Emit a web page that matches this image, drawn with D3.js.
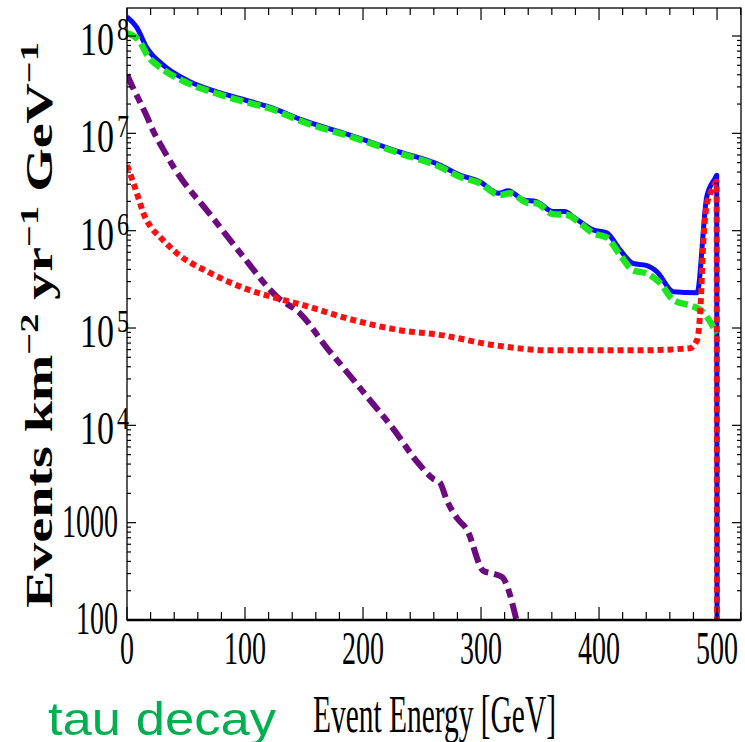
<!DOCTYPE html>
<html><head><meta charset="utf-8">
<script src="https://cdn.jsdelivr.net/npm/d3@7"></script>
<style>html,body{margin:0;padding:0;background:#fff;}svg{display:block;}</style>
</head><body>
<svg id="c" width="745" height="742"></svg>
<script>
// ---------- data ----------
const totalEnergy = [0,8,17,31,51,79,100,121,150,189,230,265,282,299,315,323,336,347,361,371,378,395,406.5,418,429,440,449,463,483,491.3,498.3,499.7,500];
const totalEvents = [1.57e8,1.24e8,7.5e7,5.0e7,3.5e7,2.6e7,2.2e7,1.86e7,1.35e7,9.6e6,6.5e6,4.73e6,3.73e6,3.19e6,2.42e6,2.57e6,2.07e6,1.99e6,1.57e6,1.57e6,1.39e6,1.02e6,9.5e5,6.3e5,4.6e5,4.4e5,3.8e5,2.36e5,2.3e5,2.24e6,3.45e6,3.7e6,100];

const greenEnergy = [0,11,17,31,51,79,100,121,150,189,230,265,282,299,316,325,339,347,361,373,384,395,406.5,418,429,440,452,463,480,486,500];
const greenEvents = [1.07e8,8.7e7,6.4e7,4.5e7,3.3e7,2.5e7,2.1e7,1.8e7,1.3e7,9.3e6,6.3e6,4.54e6,3.58e6,3.07e6,2.32e6,2.42e6,1.94e6,1.91e6,1.48e6,1.45e6,1.19e6,9.4e5,8.5e5,5.6e5,3.9e5,3.65e5,2.88e5,1.94e5,1.66e5,1.53e5,8.8e4];

const redEnergy = [0,5,10,14,20,28,42,70,104,132,147,186,231,265,310,358,400,435,477,483,486,488,491,495.5,498.3,499.6,500];
const redEvents = [4.7e6,3.2e6,2.1e6,1.5e6,1.1e6,8.6e5,5.9e5,3.7e5,2.45e5,1.95e5,1.75e5,1.26e5,9.5e4,8.5e4,6.7e4,5.9e4,5.9e4,5.9e4,6.2e4,7.5e4,1.66e5,6.3e5,1.76e6,2.6e6,3.07e6,3.2e6,100];

const purpleEnergy = [0,5,11,17,22,30,39,47,68,96,127,147,171,176,203,226,246,260,265,271,280,288,302,310,318,330];
const purpleEvents = [4.0e7,2.95e7,2.1e7,1.48e7,1.07e7,7.1e6,4.6e6,3.3e6,1.6e6,5.9e5,2.1e5,1.4e5,5.9e4,5.0e4,2.0e4,9.1e3,4.2e3,2.8e3,2.6e3,1.7e3,1.1e3,850,320,300,275,100];

const xTickValues = [0,100,200,300,400,500];
const yDecades = [2,3,4,5,6,7,8];
const xTitle = "Event Energy [GeV]";
const cornerLabel = "tau decay";

// ---------- layout ----------
const svg = d3.select("#c");
const L = 127, R = 741, T = 8, B = 620;
const x = d3.scaleLinear().domain([0, 520.3]).range([L, R]);
const y = d3.scaleLog().domain([100, 1.94e8]).range([B, T]);

svg.append("defs").append("clipPath").attr("id","clip")
  .append("rect").attr("x",L).attr("y",T).attr("width",R-L).attr("height",B-T);

const line = d3.line().x(d=>x(d[0])).y(d=>y(d[1])).curve(d3.curveMonotoneX);
const zip = (a,b)=>a.map((v,i)=>[v,b[i]]);

const g = svg.append("g").attr("clip-path","url(#clip)");
g.append("path").attr("d", line(zip(totalEnergy,totalEvents)))
  .attr("fill","none").attr("stroke","#0a0aff").attr("stroke-width",5).attr("stroke-linejoin","round");
g.append("path").attr("d", line(zip(greenEnergy,greenEvents)))
  .attr("fill","none").attr("stroke","#1ee61e").attr("stroke-width",6.5).attr("stroke-dasharray","13,5");
g.append("path").attr("d", line(zip(purpleEnergy,purpleEvents)))
  .attr("fill","none").attr("stroke","#6c0a80").attr("stroke-width",6).attr("stroke-dasharray","16,6,9,6");
g.append("path").attr("d", line(zip(redEnergy,redEvents)))
  .attr("fill","none").attr("stroke","#ff1010").attr("stroke-width",6).attr("stroke-dasharray","6,4");

// ---------- frame & ticks ----------
const ax = svg.append("g").attr("stroke","#000");
ax.append("rect").attr("x",L).attr("y",T).attr("width",R-L).attr("height",B-T)
  .attr("fill","none").attr("stroke-width",1.3);
ax.append("line").attr("x1",L).attr("x2",R).attr("y1",B).attr("y2",B).attr("stroke-width",2.5);

const xMinor = d3.range(0, 521, 20);
xMinor.forEach(v=>{
  const major = v % 100 === 0;
  ax.append("line").attr("x1",x(v)).attr("x2",x(v)).attr("y1",B).attr("y2",B-(major?13:8)).attr("stroke-width",1.2);
  ax.append("line").attr("x1",x(v)).attr("x2",x(v)).attr("y1",T).attr("y2",T+(major?12:7)).attr("stroke-width",1.2);
});
yDecades.forEach(d=>{
  for (let m=1;m<=9;m++){
    const v = m*Math.pow(10,d);
    if (v>1.94e8) continue;
    const len = m===1?9:4;
    ax.append("line").attr("x1",L).attr("x2",L+len).attr("y1",y(v)).attr("y2",y(v)).attr("stroke-width",1.2);
    ax.append("line").attr("x1",R).attr("x2",R-len).attr("y1",y(v)).attr("y2",y(v)).attr("stroke-width",1.2);
  }
});

// ---------- labels ----------
const serif = "'Liberation Serif','Times New Roman',serif";
xTickValues.forEach(v=>{
  const s = String(v);
  svg.append("text").attr("x",x(v)).attr("y",664).attr("text-anchor","middle")
    .attr("font-family",serif).attr("font-size",46)
    .attr("textLength",14*s.length).attr("lengthAdjust","spacingAndGlyphs").text(s);
});
yDecades.forEach(d=>{
  const ty = y(Math.pow(10,d));
  if (d<=3){
    const s = String(Math.pow(10,d));
    svg.append("text").attr("x",118-14*s.length).attr("y",ty+14)
      .attr("font-family",serif).attr("font-size",47)
      .attr("textLength",14*s.length).attr("lengthAdjust","spacingAndGlyphs").text(s);
  } else {
    svg.append("text").attr("x",80).attr("y",ty+19)
      .attr("font-family",serif).attr("font-size",46)
      .attr("textLength",34).attr("lengthAdjust","spacingAndGlyphs").text("10");
    svg.append("text").attr("x",117).attr("y",ty+4)
      .attr("font-family",serif).attr("font-size",32)
      .attr("textLength",12).attr("lengthAdjust","spacingAndGlyphs").text(String(d));
  }
});

svg.append("text").attr("x",313).attr("y",732)
  .attr("font-family",serif).attr("font-size",52)
  .attr("textLength",243).attr("lengthAdjust","spacingAndGlyphs").text(xTitle);

svg.append("text").attr("x",48).attr("y",735)
  .attr("font-family","'Liberation Sans',Arial,sans-serif").attr("font-size",47).attr("fill","#00b050")
  .attr("textLength",228).attr("lengthAdjust","spacingAndGlyphs").text(cornerLabel);

// y title (rotated, bold serif, with superscripts)
const yt = svg.append("text").attr("font-family",serif).attr("font-weight","bold").attr("font-size",38);
const parts = [["Events km",0],["−2",1],[" yr",0],["−1",1],[" GeV",0],["−1",1]];
parts.forEach(([t,sup])=>{
  yt.append("tspan").attr("font-size",sup?26:38).attr("baseline-shift",sup?"14":"0").text(t);
});
const nat = yt.node().getComputedTextLength();
const want = 608-42;
yt.attr("transform",`translate(52,608) rotate(-90) scale(${want/nat},1)`);
</script>
</body></html>
